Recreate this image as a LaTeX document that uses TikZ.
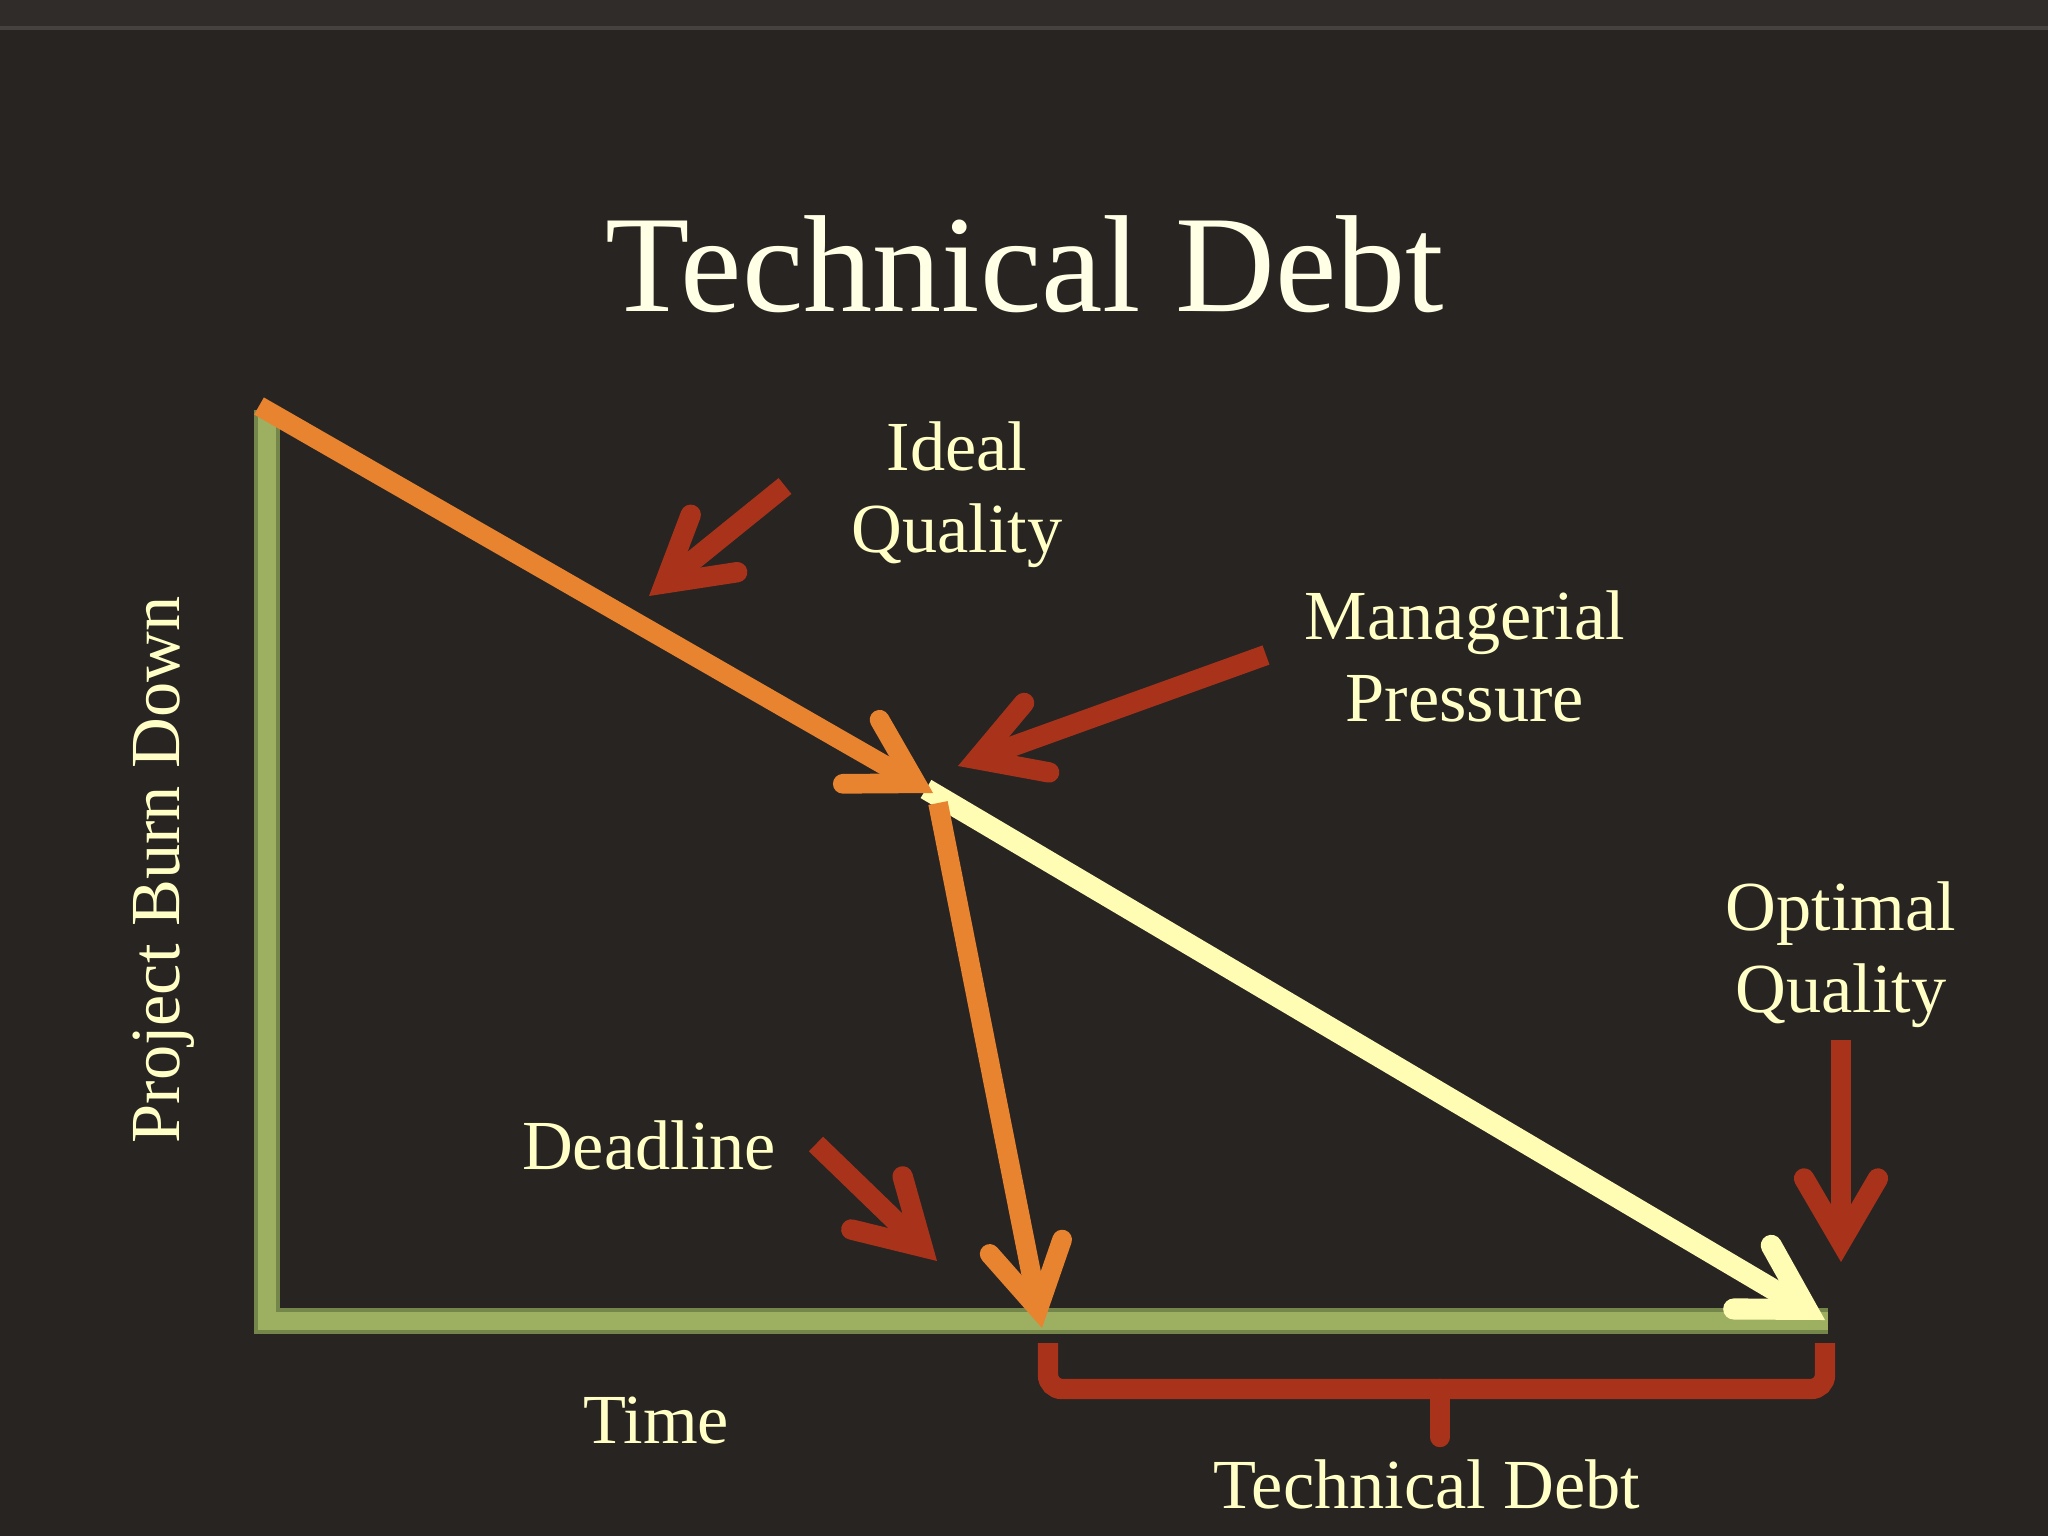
\documentclass[tikz,border=0pt]{standalone}
\usepackage{fontspec}
\setmainfont{Liberation Serif}
\usetikzlibrary{arrows.meta}
\definecolor{bgc}{HTML}{282422}
\definecolor{bandc}{HTML}{302C2A}
\definecolor{bandline}{HTML}{46423F}
\definecolor{cream}{HTML}{FFFFC6}
\definecolor{titlec}{HTML}{FFFFE6}
\definecolor{redc}{HTML}{A8331A}
\definecolor{orangec}{HTML}{E8832F}
\definecolor{yellowc}{HTML}{FFFDB4}
\definecolor{greenc}{HTML}{9DB062}
\definecolor{greendark}{HTML}{74864A}
\begin{document}
\begin{tikzpicture}[x=0.01cm,y=-0.01cm,
  lbl/.style={text=cream, font=\fontsize{20}{23.3}\selectfont, inner sep=0pt, align=center},
  head/.style={-{Straight Barb[length=18pt,width=21pt,line cap=round,line join=miter]}},
  redarrow/.style={draw=redc, line width=5.8pt, head},
  orangearrow/.style={draw=orangec, line width=5.6pt, head},
  yellowarrow/.style={draw=yellowc, line width=6pt, head},
  axisdark/.style={draw=greendark, line width=7.2pt, line join=miter},
  axislight/.style={draw=greenc, line width=5pt, line join=miter},
  bracestyle/.style={draw=redc, line width=5.8pt, rounded corners=4pt}]
\useasboundingbox (0,0) rectangle (2048,1536);
% background
\fill[bgc] (0,0) rectangle (2048,1536);
\fill[bandc] (0,0) rectangle (2048,28);
\draw[bandline, line width=1.2pt] (0,28) -- (2048,28);

% coordinates
\coordinate (ytop) at (267,410);
\coordinate (origin) at (267,1321);
\coordinate (xend) at (1828,1321);
\coordinate (o1s) at (259,406);
\coordinate (mid) at (933,793);
\coordinate (ys) at (926,789);
\coordinate (opt) at (1825,1320);
\coordinate (o2s) at (938,803);
\coordinate (dl) at (1042,1328);
\coordinate (ri1) at (785,486);
\coordinate (ri2) at (649,596);
\coordinate (rm1) at (1266,655);
\coordinate (rm2) at (958,766);
\coordinate (rd1) at (816,1144);
\coordinate (rd2) at (937,1261);
\coordinate (ro1) at (1841,1040);
\coordinate (ro2) at (1841,1262);
\coordinate (bl) at (1048,1343);
\coordinate (br) at (1825,1343);
\coordinate (bs) at (1440,1389);
\coordinate (bt) at (1440,1437);

% axes
\draw[axisdark] (ytop) -- (origin) -- (xend);
\draw[axislight] (ytop) -- (origin) -- (xend);

% lines
\draw[yellowarrow] (ys) -- (opt);
\draw[orangearrow] (o1s) -- (mid);
\draw[orangearrow] (o2s) -- (dl);

% red pointer arrows
\draw[redarrow] (ri1) -- (ri2);
\draw[redarrow] (rm1) -- (rm2);
\draw[redarrow] (rd1) -- (rd2);
\draw[redarrow] (ro1) -- (ro2);

% brace
\draw[bracestyle] (bl) -- (bl |- bs) -- (br |- bs) -- (br);
\draw[draw=redc, line width=5.8pt, line cap=round] (bs) -- (bt);

% texts
\node[text=titlec, font=\fontsize{39.3}{45}\selectfont, inner sep=0pt, anchor=base] (title) at (1025,311) {Technical Debt};
\node[lbl, anchor=base] (ideal) at (957,552) {Ideal\\Quality};
\node[lbl, anchor=base] (mgr) at (1465,721) {Managerial\\Pressure};
\node[lbl, anchor=base] (optq) at (1841,1012) {Optimal\\Quality};
\node[lbl, anchor=base] (dead) at (649,1169) {Deadline};
\node[lbl, anchor=base] (time) at (656,1443) {Time};
\node[lbl, anchor=base] (td) at (1427,1508) {Technical Debt};
\node[lbl, anchor=base, rotate=90] (pbd) at (179,870) {Project Burn Down};
\end{tikzpicture}
\end{document}
